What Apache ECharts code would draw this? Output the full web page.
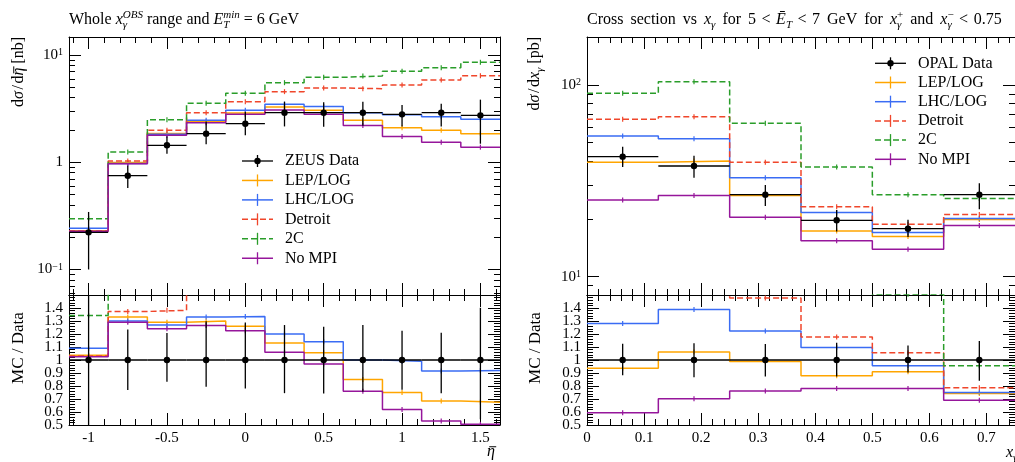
<!DOCTYPE html>
<html><head><meta charset="utf-8">
<script src="https://cdn.jsdelivr.net/npm/echarts@6/dist/echarts.min.js"></script>
<style>html,body{margin:0;padding:0;background:#fff}#c{width:1015px;height:462px}</style>
</head><body><div id="c"></div>
<script>
// ================= DATA =================
// Left panel: d sigma / d eta-bar (ZEUS)
const etaEdges = [-1.125,-0.875,-0.625,-0.375,-0.125,0.125,0.375,0.625,0.875,1.125,1.375,1.625];
const etaCenters = [-1,-0.75,-0.5,-0.25,0,0.25,0.5,0.75,1,1.25,1.5];
const zeusData    = [0.222,0.75,1.44,1.85,2.29,2.90,2.90,2.90,2.80,2.90,2.74];
const zeusErrUp   = [0.122,0.176,0.30,0.55,0.66,0.78,0.74,0.78,0.63,0.61,1.10];
const zeusErrDown = [0.122,0.173,0.24,0.38,0.50,0.74,0.75,0.71,0.64,0.74,1.25];
const lepLogEta  = [0.230,0.998,1.858,2.405,2.885,3.277,3.06,2.465,2.10,1.987,1.85];
const lhcLogEta  = [0.242,0.975,1.829,2.461,3.057,3.48,3.306,2.90,2.772,2.654,2.521];
const detroitEta = [0.229,1.03,1.99,2.90,3.67,4.56,4.93,4.86,5.26,5.86,6.42];
const twoCEta    = [0.298,1.25,2.50,3.55,4.40,5.53,6.21,6.38,7.06,7.63,8.57];
const noMpiEta   = [0.2276,0.9675,1.786,2.34,2.805,3.074,2.813,2.204,1.736,1.537,1.384];

// Right panel: d sigma / d x_gamma (OPAL)
const xgEdges = [0,0.125,0.25,0.375,0.5,0.625,0.75];
const xgCenters = [0.0625,0.1875,0.3125,0.4375,0.5625,0.6875];
const opalData    = [42.3,37.8,26.8,19.7,17.8,26.8];
const opalErrUp   = [5.3,4.9,3.3,2.6,2.0,3.9];
const opalErrDown = [5.0,5.0,3.4,2.5,1.7,4.3];
const lepLogXg  = [39.6,40.1,26.5,17.3,16.2,19.9];
const lhcLogXg  = [54.2,52.5,32.8,21.6,17.0,20.1];
const detroitXg = [66.2,68.4,39.6,23.2,18.8,21.1];
const twoCXg    = [90.5,104,63.1,37.3,26.8,25.6];
const noMpiXg   = [25.1,26.5,20.4,15.4,13.9,18.5];

// Tick labels
const etaTicks = [-1,-0.5,0,0.5,1,1.5];
const xgTicks = [0,0.1,0.2,0.3,0.4,0.5,0.6,0.7];
const ratioTicks = [0.5,0.6,0.7,0.8,0.9,1,1.1,1.2,1.3,1.4];
const logTicksEta = [0.1,1,10];
const logTicksXg = [10,100];

// ================= STYLE / LAYOUT =================
const FONT = 'Liberation Serif';
const COL = {data:'#000000', lep:'#FFA500', lhc:'#3A6CF4', det:'#F0462B', twoC:'#2A9D2A', nompi:'#96169B'};
const LX = 69, RX = 587, W = 431, TOP = 37, MAINH = 258, RTOP = 295, RH = 130;
const etaRange = [-1.125, 1.625], xgRange = [0, 0.75];
const yEtaRange = [0.0578, 14.75], yXgRange = [8.03, 178], ratioRange = [0.5, 1.5];

const mcSets = [
  {name:'LEP/LOG', color:COL.lep, dash:false, eta:lepLogEta, xg:lepLogXg},
  {name:'LHC/LOG', color:COL.lhc, dash:false, eta:lhcLogEta, xg:lhcLogXg},
  {name:'Detroit', color:COL.det, dash:true, eta:detroitEta, xg:detroitXg},
  {name:'2C', color:COL.twoC, dash:true, eta:twoCEta, xg:twoCXg},
  {name:'No MPI', color:COL.nompi, dash:false, eta:noMpiEta, xg:noMpiXg}
];

// minor tick positions
const etaMinor = []; for (let k=-11;k<=16;k++) if (k%5!==0) etaMinor.push(k/10);
const xgMinor = []; for (let k=1;k<=37;k++) if (k%5!==0) xgMinor.push(+(k*0.02).toFixed(2));
const ratioMinor = []; for (let k=26;k<=74;k++) if (k%5!==0) ratioMinor.push(+(k*0.02).toFixed(2));
function logMinor(r){ const o=[]; for (let e=-3;e<=3;e++) for (let m=2;m<=9;m++){ const v=+(m*Math.pow(10,e)).toPrecision(3); if (v>r[0]&&v<r[1]) o.push(v);} return o; }

const numFmt = v => String(Math.round(v*100)/100);
const ratioFmt = v => { const r = Math.round(v*10)/10; return r===1 ? '1' : r.toFixed(1); };
const logFmt = v => { const e = Math.round(Math.log10(v)); if (e===0) return '{m|1}'; return '{m|10}{s|' + (e<0?'\u2212':'') + Math.abs(e) + '}'; };
const logRich = {m:{fontFamily:FONT,fontSize:15,color:'#000'}, s:{fontFamily:FONT,fontSize:10,color:'#000',verticalAlign:'top'}};

const xAxes = [], yAxes = [];
function addX(grid, range, majors, minors, labels, fmt){
  ['bottom','top'].forEach(pos=>{
    const base = {type:'value', gridIndex:grid, min:range[0], max:range[1], position:pos, splitLine:{show:false}, minorTick:{show:false}, axisPointer:{show:false}, silent:true};
    xAxes.push(Object.assign({}, base, {axisLine:{show:true,onZero:false,lineStyle:{color:'#000',width:1}},
      axisTick:{show:true,inside:true,length:12,customValues:majors,lineStyle:{color:'#000',width:1}},
      axisLabel:{show:labels && pos==='bottom', customValues:majors, formatter:fmt, fontFamily:FONT, fontSize:15, color:'#000', margin:6, hideOverlap:false, showMinLabel:true, showMaxLabel:true}}));
    xAxes.push(Object.assign({}, base, {axisLine:{show:false,onZero:false},
      axisTick:{show:true,inside:true,length:6,customValues:minors,lineStyle:{color:'#000',width:1}}, axisLabel:{show:false}}));
  });
}
// labels are split over two overlaid axes (alternate values) so none is dropped as overlapping
function addY(grid, type, range, majors, minors, fmt, rich){
  const labA = majors.filter((_,i)=>i%2===0), labB = majors.filter((_,i)=>i%2===1);
  ['left','right'].forEach(pos=>{
    const base = {type:type, gridIndex:grid, min:range[0], max:range[1], position:pos, splitLine:{show:false}, minorTick:{show:false}, axisPointer:{show:false}, silent:true};
    if (type==='log') base.logBase = 10;
    const mk = vals => { const o = {show:pos==='left' && vals.length>0, customValues:vals, formatter:fmt, fontFamily:FONT, fontSize:15, color:'#000', margin:6, hideOverlap:false, showMinLabel:true, showMaxLabel:true}; if (rich) o.rich = rich; return o; };
    yAxes.push(Object.assign({}, base, {axisLine:{show:true,onZero:false,lineStyle:{color:'#000',width:1}},
      axisTick:{show:true,inside:true,length:12,customValues:majors,lineStyle:{color:'#000',width:1}}, axisLabel:mk(labA)}));
    yAxes.push(Object.assign({}, base, {axisLine:{show:false,onZero:false},
      axisTick:{show:true,inside:true,length:6,customValues:minors,lineStyle:{color:'#000',width:1}}, axisLabel:mk(labB)}));
  });
}
const grids = [
  {left:LX, top:TOP, width:W, height:MAINH},
  {left:LX, top:RTOP, width:W, height:RH},
  {left:RX, top:TOP, width:W, height:MAINH},
  {left:RX, top:RTOP, width:W, height:RH}
];
addX(0, etaRange, etaTicks, etaMinor, false, numFmt);
addX(1, etaRange, etaTicks, etaMinor, true, numFmt);
addX(2, xgRange, xgTicks, xgMinor, false, numFmt);
addX(3, xgRange, xgTicks, xgMinor, true, numFmt);
addY(0, 'log', yEtaRange, logTicksEta, logMinor(yEtaRange), logFmt, logRich);
addY(1, 'value', ratioRange, ratioTicks, ratioMinor, ratioFmt);
addY(2, 'log', yXgRange, logTicksXg, logMinor(yXgRange), logFmt, logRich);
addY(3, 'value', ratioRange, ratioTicks, ratioMinor, ratioFmt);

// ================= SERIES =================
const series = [];
function stepData(edges, vals){ const d = vals.map((v,i)=>[edges[i], v]); d.push([edges[edges.length-1], vals[vals.length-1]]); return d; }
function addMC(grid, edges, centers, vals, set){
  series.push({type:'line', name:set.name, xAxisIndex:grid*4, yAxisIndex:grid*4, data:stepData(edges, vals), step:'end', symbol:'none', clip:true, silent:true,
    lineStyle:{color:set.color, width:1.5, type:set.dash?[6,3]:'solid'}, z:3});
  series.push({type:'custom', xAxisIndex:grid*4, yAxisIndex:grid*4, clip:true, silent:true, z:3,
    data:centers.map((c,i)=>[c, vals[i]]),
    renderItem:(p,api)=>{ const pt = api.coord([api.value(0), api.value(1)]);
      return {type:'line', shape:{x1:pt[0],y1:pt[1]-2.5,x2:pt[0],y2:pt[1]+2.5}, style:{stroke:set.color, lineWidth:1.2}}; }});
}
function addData(grid, edges, centers, vals, lo, hi){
  series.push({type:'custom', xAxisIndex:grid*4, yAxisIndex:grid*4, clip:true, silent:true, z:5,
    data:centers.map((c,i)=>[c, vals[i], lo[i], hi[i], edges[i], edges[i+1]]),
    renderItem:(p,api)=>{
      const c=api.value(0), v=api.value(1);
      const a=api.coord([api.value(4), v]), b=api.coord([api.value(5), v]);
      const l=api.coord([c, api.value(2)]), h=api.coord([c, api.value(3)]), m=api.coord([c, v]);
      return {type:'group', children:[
        {type:'line', shape:{x1:a[0],y1:a[1],x2:b[0],y2:b[1]}, style:{stroke:'#000', lineWidth:1.3}},
        {type:'line', shape:{x1:l[0],y1:l[1],x2:h[0],y2:h[1]}, style:{stroke:'#000', lineWidth:1.3}},
        {type:'circle', shape:{cx:m[0], cy:m[1], r:3.2}, style:{fill:'#000'}}
      ]};
    }});
}
// main plots
mcSets.forEach(s=>{ addMC(0, etaEdges, etaCenters, s.eta, s); addMC(2, xgEdges, xgCenters, s.xg, s); });
addData(0, etaEdges, etaCenters, zeusData, zeusData.map((v,i)=>v-zeusErrDown[i]), zeusData.map((v,i)=>v+zeusErrUp[i]));
addData(2, xgEdges, xgCenters, opalData, opalData.map((v,i)=>v-opalErrDown[i]), opalData.map((v,i)=>v+opalErrUp[i]));
// ratio plots
mcSets.forEach(s=>{
  addMC(1, etaEdges, etaCenters, s.eta.map((v,i)=>v/zeusData[i]), s);
  addMC(3, xgEdges, xgCenters, s.xg.map((v,i)=>v/opalData[i]), s);
});
addData(1, etaEdges, etaCenters, zeusData.map(()=>1), zeusData.map((v,i)=>1-zeusErrDown[i]/v), zeusData.map((v,i)=>1+zeusErrUp[i]/v));
addData(3, xgEdges, xgCenters, opalData.map(()=>1), opalData.map((v,i)=>1-opalErrDown[i]/v), opalData.map((v,i)=>1+opalErrUp[i]/v));

// ================= TEXT (titles, axis titles, legends) =================
const mctx = document.createElement('canvas').getContext('2d');
function fnt(sz, it){ return (it?'italic ':'') + sz + 'px "' + FONT + '"'; }
function tw(t, sz, it){ mctx.font = fnt(sz,it); return mctx.measureText(t).width; }
function mtext(x0, base, segs, ws){
  ws = ws || 0;
  const els=[]; let x=x0, stackW=0;
  segs.forEach(s=>{
    if (s.gap!=null){ x+=s.gap; return; }
    const sz=s.sz||16, y=base+(s.dy||0);
    const parts = ws ? s.t.split(' ') : [s.t];
    let w=0;
    parts.forEach((pt,k)=>{
      if (k>0) w += tw(' ',sz,s.it) + ws;
      if (pt.length){
        els.push({type:'text', x:x+w, y:y-0.34*sz, silent:true,
          style:{text:pt, font:fnt(sz,s.it), fill:'#000', align:'left', verticalAlign:'middle'}});
        w += tw(pt,sz,s.it);
      }
    });
    if (s.bar){
      els.push({type:'line', silent:true, shape:{x1:x+0.28*w, y1:y-0.64*sz, x2:x+w+0.08*sz, y2:y-0.64*sz}, style:{stroke:'#000', lineWidth:1}});
    }
    if (s.st) stackW=Math.max(stackW,w); else { x+=Math.max(w,stackW); stackW=0; }
  });
  return {els:els, width:x-x0};
}
const graphic = [];
function place(x, base, segs, ws){ mtext(x, base, segs, ws).els.forEach(e=>graphic.push(e)); }
function vplace(x, topY, segs){ const r = mtext(0, 0, segs); graphic.push({type:'group', x:x, y:topY + r.width, rotation:Math.PI/2, children:r.els}); }
function vplaceC(x, midY, segs){ const r = mtext(0, 0, segs); graphic.push({type:'group', x:x, y:midY + r.width/2, rotation:Math.PI/2, children:r.els}); }

const SUP=-6, SUB=4, SS=11;
place(LX, 25, [{t:'Whole '},{t:'x',it:true},{t:'OBS',it:true,sz:SS,dy:SUP,st:true},{t:'\u03b3',it:true,sz:SS,dy:SUB},{t:' range and '},
  {t:'E',it:true},{t:'min',it:true,sz:SS,dy:SUP,st:true},{t:'T',it:true,sz:SS,dy:SUB},{gap:4},{t:'='},{gap:4},{t:'6 GeV'}]);
place(RX, 25, [{t:'Cross section vs '},{t:'x',it:true},{t:'\u03b3',it:true,sz:SS,dy:SUB},{t:' for 5'},{gap:5.5},{t:'<'},{gap:5.5},
  {t:'\u0112',it:true},{t:'T',it:true,sz:SS,dy:SUB},{gap:5.5},{t:'<'},{gap:5.5},{t:'7 GeV for '},{t:'x',it:true},{t:'+',sz:SS,dy:SUP,st:true},{t:'\u03b3',it:true,sz:SS,dy:SUB},
  {t:' and '},{t:'x',it:true},{t:'\u2212',sz:SS,dy:SUP,st:true},{t:'\u03b3',it:true,sz:SS,dy:SUB},{gap:5.5},{t:'<'},{gap:5.5},{t:'0.75'}], 3);

vplace(24, 37, [{t:'d'},{t:'\u03c3',it:true},{gap:1.5},{t:'/'},{gap:1.5},{t:'d'},{t:'\u03b7',it:true,bar:true},{t:' [nb]'}]);
vplace(540, 37, [{t:'d'},{t:'\u03c3',it:true},{gap:1.5},{t:'/'},{gap:1.5},{t:'d'},{t:'x',it:true},{t:'\u03b3',it:true,sz:SS,dy:SUB},{t:' [pb]'}]);
vplaceC(24, 348, [{t:'MC / Data',sz:17}]);
vplaceC(541, 348, [{t:'MC / Data',sz:17}]);
place(487, 457, [{t:'\u03b7',it:true,bar:true}]);
place(1006, 458, [{t:'x',it:true},{t:'\u03b3',it:true,sz:SS,dy:SUB}]);

function legend(x0, y0, step, dataName){
  const x1 = x0 + 31, xm = (x0+x1)/2;
  const rows = [{name:dataName, color:'#000', dash:false, data:true}].concat(mcSets);
  rows.forEach((r,i)=>{
    const y = y0 + i*step;
    graphic.push({type:'line', silent:true, shape:{x1:x0,y1:y,x2:x1,y2:y}, style:{stroke:r.color, lineWidth:r.data?1.3:1.5, lineDash:r.dash?[6,3]:null}});
    graphic.push({type:'line', silent:true, shape:{x1:xm,y1:y-6,x2:xm,y2:y+6}, style:{stroke:r.color, lineWidth:1.3}});
    if (r.data) graphic.push({type:'circle', silent:true, shape:{cx:xm,cy:y,r:3.2}, style:{fill:'#000'}});
    place(x0+43, y+5.5, [{t:r.name}]);
  });
}
legend(242, 161, 19.45, 'ZEUS Data');
legend(875, 63.3, 19.2, 'OPAL Data');

const chart = echarts.init(document.getElementById('c'), null, {renderer:'canvas'});
chart.setOption({animation:false, backgroundColor:'#fff', grid:grids, xAxis:xAxes, yAxis:yAxes, series:series, graphic:graphic});
</script></body></html>
